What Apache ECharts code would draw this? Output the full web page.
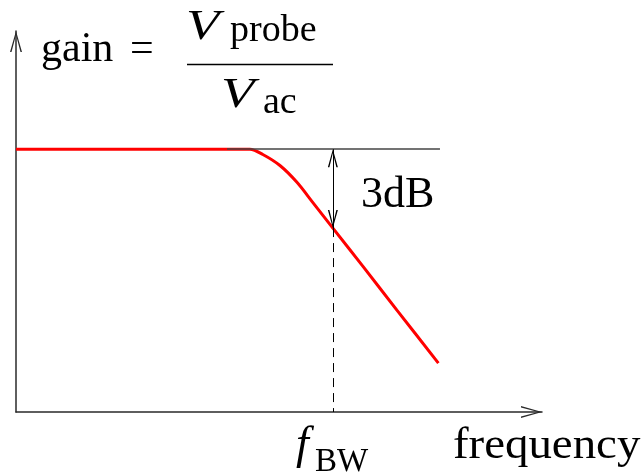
<!DOCTYPE html>
<html>
<head>
<meta charset="utf-8">
<script src="https://cdn.jsdelivr.net/npm/echarts@6/dist/echarts.min.js"></script>
<style>
  html, body { margin: 0; padding: 0; background: #fff; }
  #chart { width: 642px; height: 475px; }
</style>
</head>
<body>
<div id="chart"></div>
<script>
// Low-pass response sketch: gain (dB) against frequency normalised to f_BW.
const freq   = [0, 0.40, 0.70, 0.738, 0.779, 0.833, 0.886, 0.937, 1.0, 1.095, 1.202, 1.333];
const gainDb = [0, 0, 0, 0, -0.20, -0.62, -1.25, -2.03, -3.0, -4.46, -6.12, -8.14];

const fBW = 1.0;            // bandwidth frequency (normalised)
const passbandDb = 0;       // flat passband level
const dropDb = -3;          // -3 dB point
const refLineFreq = [0.666, 1.338];   // extent of the passband reference line
const freqRange = [0, 1.66];
const gainRange = [-10, 4.5];

const SERIF = '"Liberation Serif", "Times New Roman", serif';

// Open chevron arrowhead inside a square box of side 2*len.
// A zero-area sub-path across the top keeps the box square and the tip at its centre.
function chevron(len, half) {
  const s = 2 * len, c = len, t = 1.5;
  return 'path://M0,0 L' + s + ',0 Z ' +
    'M' + c + ',' + len +
    ' L' + (c + half) + ',' + s +
    ' L' + (c + half - t) + ',' + s +
    ' L' + c + ',' + (len + 4) +
    ' L' + (c - half + t) + ',' + s +
    ' L' + (c - half) + ',' + s + ' Z';
}
const axisArrow = chevron(21, 6);
const dimArrow = chevron(18, 5);

const chart = echarts.init(document.getElementById('chart'), null, { renderer: 'canvas' });

function axisCommon(range, pos) {
  return {
    type: 'value',
    min: range[0],
    max: range[1],
    position: pos,
    axisLine: {
      show: true,
      onZero: false,
      symbol: ['none', axisArrow],
      symbolSize: [42, 42],
      lineStyle: { color: '#2a2a2a', width: 1.5 }
    },
    axisTick: { show: false },
    axisLabel: { show: false },
    splitLine: { show: false }
  };
}

function txt(text, x, y, size, italic, sx) {
  return {
    type: 'text',
    x: x,
    y: y,
    scaleX: sx || 1,
    silent: true,
    style: {
      text: text,
      font: (italic ? 'italic ' : '') + size + 'px ' + SERIF,
      fill: '#000',
      align: 'left',
      verticalAlign: 'middle'
    }
  };
}

chart.setOption({
  animation: false,
  backgroundColor: '#fff',
  grid: { left: 16, right: 100, top: 31, bottom: 63 },
  xAxis: axisCommon(freqRange, 'bottom'),
  yAxis: axisCommon(gainRange, 'left'),
  series: [
    {
      // passband reference level
      type: 'line',
      z: 1,
      data: [],
      markLine: {
        silent: true,
        symbol: ['none', 'none'],
        label: { show: false },
        lineStyle: { color: '#444', width: 1.5, type: 'solid' },
        data: [[{ coord: [refLineFreq[0], passbandDb] }, { coord: [refLineFreq[1], passbandDb] }]]
      }
    },
    {
      name: 'gain',
      type: 'line',
      z: 2,
      data: freq.map((f, i) => [f, gainDb[i]]),
      smooth: 0.3,
      showSymbol: false,
      lineStyle: { color: '#ff0000', width: 3 }
    },
    {
      // 3 dB dimension arrow and the dashed drop to the frequency axis
      type: 'line',
      z: 3,
      data: [],
      markLine: {
        silent: true,
        label: { show: false },
        symbol: [dimArrow, dimArrow],
        symbolSize: 36,
        lineStyle: { color: '#000', width: 1, type: 'solid' },
        data: [
          [{ coord: [fBW, passbandDb] }, { coord: [fBW, passbandDb + dropDb] }],
          [
            { coord: [fBW, passbandDb + dropDb], symbol: 'none', lineStyle: { type: [9, 6], color: '#000', width: 1 } },
            { coord: [fBW, gainRange[0]], symbol: 'none' }
          ]
        ]
      }
    }
  ],
  graphic: [
    txt('gain', 41, 49.8, 42, false),
    txt('=', 130, 49.8, 42, false),
    txt('V', 186, 27.8, 42, true, 1.3),
    txt('probe', 230, 30.7, 38, false),
    {
      type: 'line',
      silent: true,
      shape: { x1: 187, y1: 64.5, x2: 333, y2: 64.5 },
      style: { stroke: '#000', lineWidth: 1.5 }
    },
    txt('V', 221, 95.8, 42, true, 1.3),
    txt('ac', 263, 103.2, 38, false),
    txt('3dB', 361, 195.2, 44, false),
    txt('f', 296, 445.5, 46, true),
    txt('BW', 315, 461.9, 33, false),
    txt('frequency', 453, 446.9, 44, false, 1.065)
  ]
});
</script>
</body>
</html>
